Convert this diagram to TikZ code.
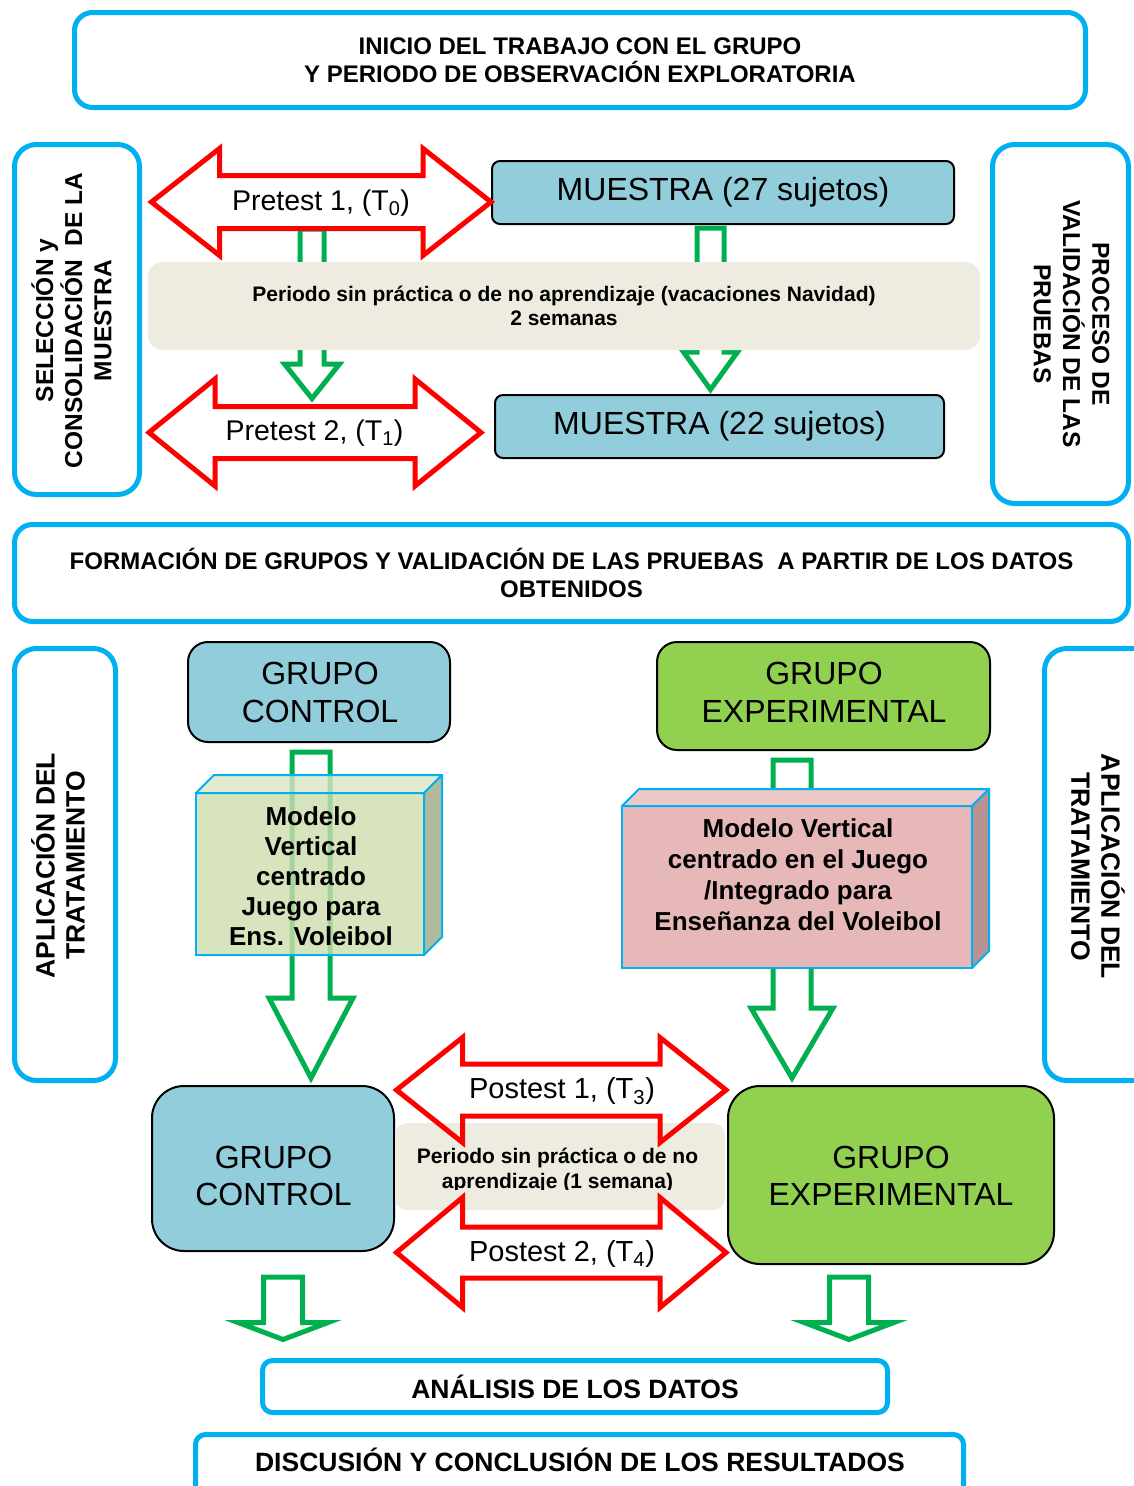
\documentclass[tikz,border=0pt]{standalone}
\usepackage{fontspec}
\setmainfont{Liberation Sans}
\usetikzlibrary{calc}

\definecolor{framecyan}{HTML}{00B0F0}
\definecolor{arrowred}{HTML}{FF0000}
\definecolor{arrowgreen}{HTML}{00B050}
\definecolor{boxblue}{HTML}{92CDDC}
\definecolor{boxgreen}{HTML}{92D050}
\definecolor{bandgrey}{HTML}{EEECE1}
\definecolor{olivefront}{HTML}{CDDDAC}
\definecolor{olivetop}{HTML}{DBE5C3}
\definecolor{oliveside}{HTML}{B0BA9A}
\definecolor{rosefront}{HTML}{E6B9B8}
\definecolor{rosetop}{HTML}{ECC8C7}
\definecolor{roseside}{HTML}{B89391}

\newcommand\capsfont{\fontsize{24}{28}\selectfont\bfseries}
\newcommand\sidefont{\fontsize{24.5}{29.2}\selectfont\bfseries}
\newcommand\aplfont{\fontsize{26.5}{30}\selectfont\bfseries}
\newcommand\bigfont{\fontsize{32}{37.5}\selectfont}
\newcommand\testfont{\fontsize{28.5}{32}\selectfont}
\newcommand\postfont{\fontsize{29}{33}\selectfont}
\newcommand\bandfont{\fontsize{21}{24}\selectfont\bfseries}
\newcommand\bandfontb{\fontsize{21}{25}\selectfont\bfseries}
\newcommand\modelfont{\fontsize{26}{30}\selectfont\bfseries}
\newcommand\modelfontb{\fontsize{26}{31}\selectfont\bfseries}
\newcommand\closingfont{\fontsize{26.5}{30}\selectfont\bfseries}

\tikzset{
  cyanframe/.style={draw=framecyan, line width=5pt, rounded corners=#1, fill=white, inner sep=0pt},
  cyanframe/.default=18pt,
  boxnode/.style={draw=black, line width=2pt, fill=boxblue, rounded corners=#1, inner sep=0pt},
  boxnode/.default=8pt,
  pauseband/.style={fill=bandgrey, rounded corners=#1, inner sep=0pt},
  pauseband/.default=12pt,
  modelface/.style={draw=framecyan, line width=2pt, inner sep=0pt, outer sep=0pt},
  garrow/.style={draw=arrowgreen, line width=5pt, fill=white, line join=miter},
  rarrow/.style={draw=arrowred, line width=5pt, line join=miter},
}

% block arrow pointing down: #1 gives the top of the shaft, #2 the tip,
% #3 half shaft width, #4 half head width, #5 head length
\newcommand\greendown[5]{%
  \draw[garrow] let \p1=(#1), \p2=(#2) in
    (\x2-#3,\y1) -- (\x2-#3,\y2+#5) -- (\x2-#4,\y2+#5) -- (\x2,\y2)
    -- (\x2+#4,\y2+#5) -- (\x2+#3,\y2+#5) -- (\x2+#3,\y1) -- cycle;}

% horizontal double block arrow: #1 left tip, #2 right tip,
% #3 head length, #4 half shaft width, #5 half head width
\newcommand\redboth[5]{%
  \draw[rarrow] let \p1=(#1), \p2=(#2) in
    (\x1,\y1) -- (\x1+#3,\y1+#5) -- (\x1+#3,\y1+#4) -- (\x2-#3,\y1+#4)
    -- (\x2-#3,\y1+#5) -- (\x2,\y1) -- (\x2-#3,\y1-#5) -- (\x2-#3,\y1-#4)
    -- (\x1+#3,\y1-#4) -- (\x1+#3,\y1-#5) -- cycle;}

\begin{document}
\begin{tikzpicture}[x=1pt,y=-1pt]
\useasboundingbox (0,0) rectangle (1133,1486);

% ---------- stage frames
\node[cyanframe, minimum width=1011pt, minimum height=95pt, font=\capsfont, align=center] (inicio) at (580,60)
  {INICIO DEL TRABAJO CON EL GRUPO\\Y PERIODO DE OBSERVACIÓN EXPLORATORIA};
\node[cyanframe=22pt, minimum width=125pt, minimum height=350pt] (selbox) at (77,319.5) {};
\node[rotate=90, font=\sidefont, align=center] (seltext) at (71.5,320.5)
  {SELECCIÓN y\\CONSOLIDACIÓN\ \ DE LA\\MUESTRA};
\node[cyanframe=22pt, minimum width=136pt, minimum height=359pt] (valbox) at (1060.5,324) {};
\node[rotate=-90, font=\sidefont, align=center] (valtext) at (1071.5,324)
  {PROCESO DE\\VALIDACIÓN DE LAS\\PRUEBAS};
\node[cyanframe, minimum width=1114pt, minimum height=97pt, font=\capsfont, align=center] (formacion) at (571.5,573)
  {FORMACIÓN DE GRUPOS Y VALIDACIÓN DE LAS PRUEBAS\ \ A PARTIR DE LOS DATOS\\OBTENIDOS};
\node[cyanframe=22pt, minimum width=101pt, minimum height=432pt] (aplL) at (65,864.5) {};
\node[rotate=90, font=\aplfont, align=center] (aplLtext) at (58,865.5) {APLICACIÓN DEL\\TRATAMIENTO};
\node[cyanframe=22pt, minimum width=113pt, minimum height=432pt] (aplR) at (1101,864.5) {};
\node[rotate=-90, font=\aplfont, align=center] (aplRtext) at (1098,866.5) {APLICACIÓN DEL\\TRATAMIENTO};
\node[cyanframe=10pt, minimum width=625pt, minimum height=52pt, font=\closingfont] (analisis) at (575,1386.5)
  {ANÁLISIS DE LOS DATOS};
\node[cyanframe=10pt, minimum width=768pt, minimum height=70pt] (discusion) at (579.5,1469.5) {};
\node[font=\closingfont] (disctext) at (580,1460) {DISCUSIÓN Y CONCLUSIÓN DE LOS RESULTADOS};

% ---------- sample selection
\node[boxnode, minimum width=462pt, minimum height=63pt, font=\bigfont] (m27) at (723,192.5) {MUESTRA (27 sujetos)};
\node[boxnode, minimum width=449pt, minimum height=63pt, font=\bigfont] (m22) at (719.5,426.5) {MUESTRA (22 sujetos)};
\node[font=\testfont] (pre1) at (321,203) {Pretest 1, (T\textsubscript{0})};
\node[font=\testfont] (pre2) at (314.5,433) {Pretest 2, (T\textsubscript{1})};

\greendown{$(pre1)+(0,26)$}{$(pre2)+(-2.5,-34.5)$}{12pt}{27.5pt}{34.5pt}
\greendown{$(m27.south)+(0,3)$}{$(m22.north)+(-9,-4.5)$}{13.5pt}{27pt}{37.5pt}

\node[pauseband=14pt, minimum width=832pt, minimum height=88pt, font=\bandfont, align=center] (pausa1) at (564,306)
  {Periodo sin práctica o de no aprendizaje (vacaciones Navidad)\\2 semanas};

\redboth{$(selbox.east |- pre1)+(9.5,-1)$}{$(m27.west |- pre1)+(0,-1)$}{68pt}{26.5pt}{53.5pt}
\redboth{$(selbox.east |- pre2)+(7,-0.5)$}{$(m22.west |- pre2)+(-13,-0.5)$}{66pt}{26pt}{53.5pt}

% ---------- treatment
\node[boxnode=20pt, minimum width=262pt, minimum height=100pt] (gcTop) at (319,692) {};
\node[font=\bigfont, align=center] (gcToptext) at (320,692.5) {GRUPO\\CONTROL};
\node[boxnode=20pt, fill=boxgreen, minimum width=333pt, minimum height=108pt] (geTop) at (823.5,696) {};
\node[font=\bigfont, align=center] (geToptext) at (824,692.5) {GRUPO\\EXPERIMENTAL};
\node[boxnode=32pt, minimum width=242pt, minimum height=165pt] (gcBot) at (273,1168.5) {};
\node[font=\bigfont, align=center] (gcBottext) at (273.5,1176) {GRUPO\\CONTROL};
\node[boxnode=32pt, fill=boxgreen, minimum width=326pt, minimum height=178pt] (geBot) at (891,1175) {};
\node[font=\bigfont, align=center] (geBottext) at (891,1176) {GRUPO\\EXPERIMENTAL};

\greendown{$(gcTop.south)+(0,9)$}{$(gcTop.south |- gcBot.north)+(-8,-7)$}{19pt}{42pt}{80pt}
\greendown{$(geTop.south)+(0,9)$}{$(geTop.south |- geBot.north)+(-31.5,-7)$}{19pt}{41pt}{70pt}

% control model block (translucent)
\node[modelface, fill=olivefront, fill opacity=.8, minimum width=228pt, minimum height=162pt] (modL) at (310,874) {};
\filldraw[draw=framecyan, line width=2pt, line join=round, fill=olivetop, fill opacity=.8]
  (modL.north west) -- ++(18,-18) -- ([shift={(18pt,18pt)}]modL.north east) -- (modL.north east) -- cycle;
\filldraw[draw=framecyan, line width=2pt, line join=round, fill=oliveside]
  (modL.north east) -- ([shift={(18pt,18pt)}]modL.north east) -- ([shift={(18pt,18pt)}]modL.south east) -- (modL.south east) -- cycle;
\begin{scope}
  \clip (modL.north west) rectangle ($(modL.south east)+(0,-9)$);
  \node[font=\modelfont, align=center] (modLtext) at (311,876.5)
    {Modelo\\Vertical\\centrado\\Juego para\\Ens. Voleibol};
\end{scope}

% experimental model block
\node[modelface, fill=rosefront, minimum width=350pt, minimum height=162pt] (modR) at (797,887) {};
\filldraw[draw=framecyan, line width=2pt, line join=round, fill=rosetop]
  (modR.north west) -- ++(17,-17) -- ([shift={(17pt,17pt)}]modR.north east) -- (modR.north east) -- cycle;
\filldraw[draw=framecyan, line width=2pt, line join=round, fill=roseside]
  (modR.north east) -- ([shift={(17pt,17pt)}]modR.north east) -- ([shift={(17pt,17pt)}]modR.south east) -- (modR.south east) -- cycle;
\node[font=\modelfontb, align=center] (modRtext) at (798,874.5)
  {Modelo Vertical\\centrado en el Juego\\/Integrado para\\Enseñanza del Voleibol};

% ---------- post tests
\node[pauseband, minimum width=330pt, minimum height=87pt] (pausa2) at (560,1166.5) {};
\begin{scope}
  \clip (pausa2.north west) rectangle ($(pausa2.east)+(0,22.5)$);
  \node[font=\bandfontb, align=center] (pausa2text) at (557.5,1170.5)
    {Periodo sin práctica o de no\\aprendizaje (1 semana)};
\end{scope}

\node[font=\postfont] (post1) at (562,1091) {Postest 1, (T\textsubscript{3})};
\node[font=\postfont] (post2) at (562,1253.5) {Postest 2, (T\textsubscript{4})};
\redboth{$(gcBot.east |- post1)+(1.5,-1)$}{$(geBot.west |- post1)+(-1,-1)$}{66pt}{26pt}{52.5pt}
\redboth{$(gcBot.east |- post2)+(1.5,-1)$}{$(geBot.west |- post2)+(-1,-1)$}{66pt}{25.5pt}{55pt}

\greendown{$(gcBot.south)+(0,25)$}{$(gcBot.south |- analisis.north)+(10,-18.5)$}{19.5pt}{45pt}{17pt}
\greendown{$(geBot.south)+(0,12)$}{$(geBot.south |- analisis.north)+(-42,-18.5)$}{19.5pt}{45pt}{17pt}

\end{tikzpicture}
\end{document}
